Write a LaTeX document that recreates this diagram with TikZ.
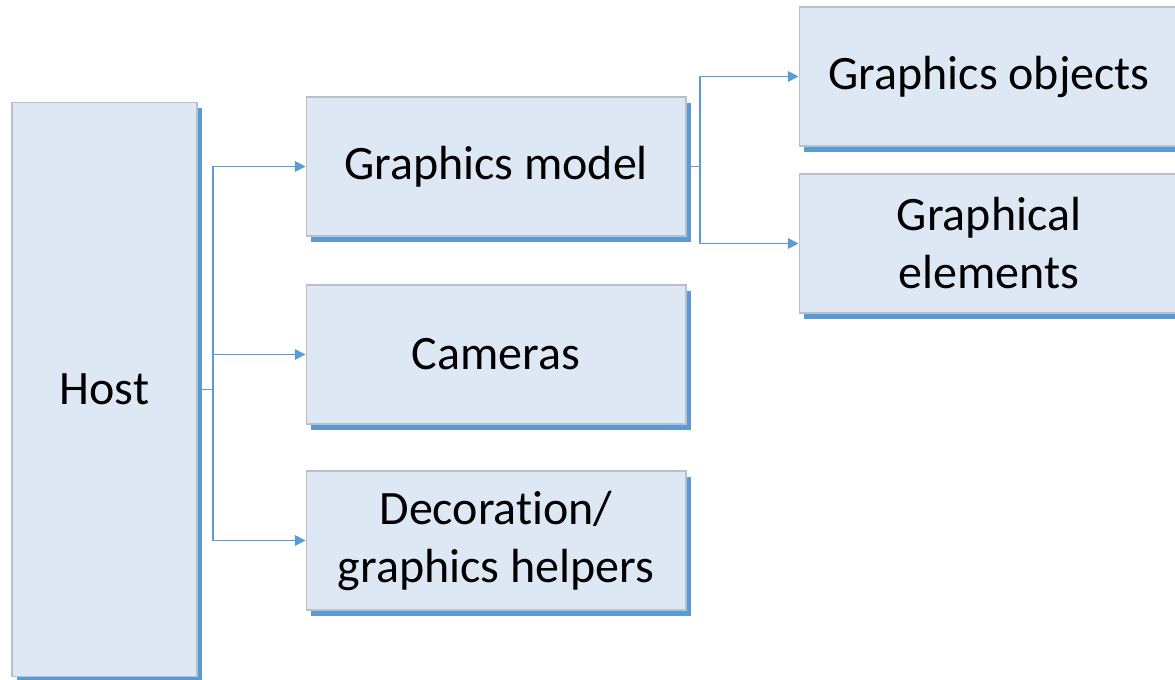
\documentclass[tikz,border=0pt]{standalone}
\usepackage{fontspec}
\setmainfont[Ligatures={NoCommon,NoContextual},RawFeature={-calt}]{Carlito}
\usetikzlibrary{arrows.meta,shadows}
\definecolor{boxfill}{RGB}{222,232,244}
\definecolor{boxline}{RGB}{185,192,200}
\definecolor{linkblue}{RGB}{91,155,213}
\begin{document}
\begin{tikzpicture}[x=0.02cm,y=-0.02cm,
    block/.style={draw=boxline,fill=boxfill,line width=0.6pt,text=black,align=center,
      font=\fontsize{27.3}{33}\selectfont,inner sep=0pt,
      minimum width=7.6cm,minimum height=2.78cm,
      general shadow={fill=linkblue,shadow xshift=0.1cm,shadow yshift=-0.12cm}},
    link/.style={linkblue,line width=0.9pt},
    arr/.style={link,-{Triangle[length=6pt,width=6pt]}}]
    \useasboundingbox (0,0) rectangle (1175,679);
    % Boxes
    \node[block,minimum width=3.7cm,minimum height=11.5cm] (host) at (104.5,389.5) {Host};
    \node[block] (model) at (496,166.5) {Graphics model};
    \node[block] (cameras) at (496,354.5) {Cameras};
    \node[block] (helpers) at (496,540.5) {Decoration/\\graphics helpers};
    \node[block] (objects) at (989,76.5) {Graphics objects};
    \node[block] (elements) at (989,243.5) {Graphical\\elements};
    % Connectors from the host
    \coordinate (hostfork) at (213,389.5);
    \draw[link] (host.east) -- (hostfork);
    \foreach \t in {model,cameras,helpers}
      \draw[arr] (hostfork) |- (\t.west);
    % Connectors from the model
    \coordinate (modelfork) at (700,166.5);
    \draw[link] (model.east) -- (modelfork);
    \foreach \t in {objects,elements}
      \draw[arr] (modelfork) |- (\t.west);
  \end{tikzpicture}
\end{document}
